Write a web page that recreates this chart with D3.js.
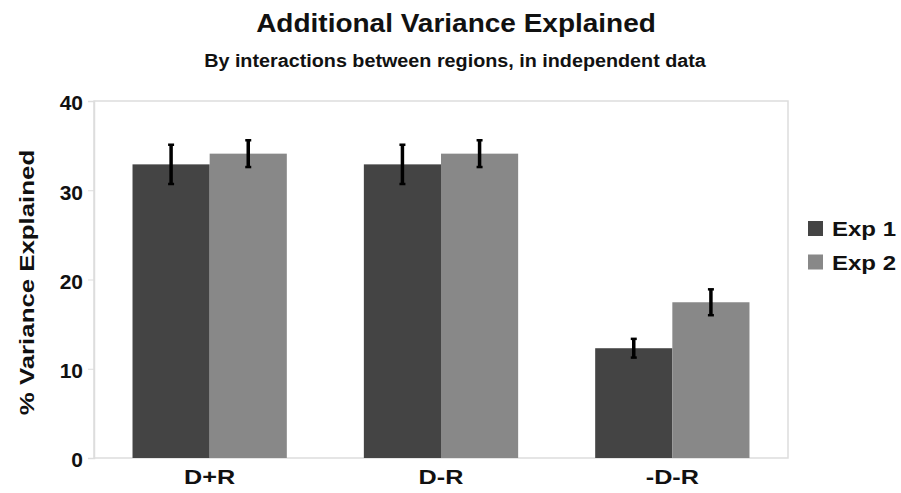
<!DOCTYPE html>
<html>
<head>
<meta charset="utf-8">
<script src="https://cdn.jsdelivr.net/npm/d3@7"></script>
<style>
  body { margin: 0; background: #fff; }
  text { font-family: "Liberation Sans", Arial, sans-serif; font-weight: bold; }
</style>
</head>
<body>
<div id="chart"></div>
<script>
// data
const categories = ["D+R", "D-R", "-D-R"];
const seriesNames = ["Exp 1", "Exp 2"];
const exp1 = [32.9, 32.9, 12.3];
const exp2 = [34.1, 34.1, 17.45];
const exp1Err = [2.2, 2.2, 1.05];
const exp2Err = [1.5, 1.5, 1.45];
const yTicks = [0, 10, 20, 30, 40];

const colors = ["#444444", "#888888"];
const W = 901, H = 493;
const margin = { top: 101, right: 113, bottom: 35, left: 94 };
const iw = W - margin.left - margin.right;
const ih = H - margin.top - margin.bottom;

const svg = d3.select("#chart").append("svg")
    .attr("width", W)
    .attr("height", H);

// the text in the picture is a bit wider than Liberation Sans, so stretch it
svg.append("text")
    .attr("transform", "translate(456,32) scale(1.12,1)")
    .attr("text-anchor", "middle")
    .attr("font-size", "25px")
    .attr("fill", "#111")
    .text("Additional Variance Explained");

svg.append("text")
    .attr("transform", "translate(455,67) scale(1.13,1)")
    .attr("text-anchor", "middle")
    .attr("font-size", "17.5px")
    .attr("fill", "#111")
    .text("By interactions between regions, in independent data");

const g = svg.append("g").attr("transform", `translate(${margin.left},${margin.top})`);

const x = d3.scaleBand().domain(categories).range([0, iw]).paddingInner(0.333).paddingOuter(0.1665);
const x1 = d3.scaleBand().domain(seriesNames).range([0, x.bandwidth()]);
const y = d3.scaleLinear().domain([0, 40]).range([ih, 0]);

// frame
g.append("rect")
    .attr("x", 0).attr("y", 0)
    .attr("width", iw).attr("height", ih)
    .attr("fill", "none")
    .attr("stroke", "#dddddd")
    .attr("stroke-width", 1.5);

// y axis
const yAxis = g.append("g")
    .call(d3.axisLeft(y).tickValues(yTicks).tickSize(6).tickPadding(5));
yAxis.select(".domain").attr("stroke", "#dddddd").attr("stroke-width", 1.5);
yAxis.selectAll(".tick line").attr("stroke", "#dddddd");
yAxis.selectAll(".tick text")
    .attr("font-size", "21px")
    .attr("dy", "0.42em")
    .attr("font-family", "Liberation Sans, Arial, sans-serif")
    .attr("font-weight", "bold")
    .attr("fill", "#111");

// x axis
const xAxis = g.append("g")
    .attr("transform", `translate(0,${ih})`)
    .call(d3.axisBottom(x).tickSize(0).tickPadding(11));
xAxis.select(".domain").remove();
xAxis.selectAll(".tick text")
    .attr("font-size", "21px")
    .attr("transform", "scale(1.2,1)")
    .attr("font-family", "Liberation Sans, Arial, sans-serif")
    .attr("font-weight", "bold")
    .attr("fill", "#111");

// axis title
svg.append("text")
    .attr("transform", `translate(34,${margin.top + ih / 2 + 3}) rotate(-90) scale(1.23,1)`)
    .attr("text-anchor", "middle")
    .attr("font-size", "21px")
    .attr("fill", "#111")
    .text("% Variance Explained");

// bars
const rows = categories.map((c, i) => ({
    cat: c,
    vals: [
        { s: seriesNames[0], v: exp1[i], e: exp1Err[i], c: colors[0] },
        { s: seriesNames[1], v: exp2[i], e: exp2Err[i], c: colors[1] }
    ]
}));

const grp = g.selectAll(".grp")
    .data(rows)
    .enter().append("g")
    .attr("class", "grp")
    .attr("transform", d => `translate(${x(d.cat)},0)`);

grp.selectAll("rect")
    .data(d => d.vals)
    .enter().append("rect")
    .attr("x", d => x1(d.s))
    .attr("y", d => y(d.v))
    .attr("width", x1.bandwidth())
    .attr("height", d => ih - y(d.v))
    .attr("fill", d => d.c);

// error bars
const eb = grp.selectAll(".err")
    .data(d => d.vals)
    .enter().append("g")
    .attr("class", "err")
    .attr("transform", d => `translate(${x1(d.s) + x1.bandwidth() / 2},0)`);

eb.append("line")
    .attr("x1", 0).attr("x2", 0)
    .attr("y1", d => y(d.v + d.e))
    .attr("y2", d => y(d.v - d.e))
    .attr("stroke", "#000")
    .attr("stroke-width", 3.5);
eb.selectAll(".cap")
    .data(d => [d.v + d.e, d.v - d.e])
    .enter().append("line")
    .attr("x1", -3).attr("x2", 3)
    .attr("y1", d => y(d)).attr("y2", d => y(d))
    .attr("stroke", "#000")
    .attr("stroke-width", 2.5);

// legend
const legend = svg.append("g").attr("transform", "translate(808,221)");
seriesNames.forEach((s, i) => {
    const row = legend.append("g").attr("transform", `translate(0,${i * 33.5})`);
    row.append("rect")
        .attr("width", 15).attr("height", 15)
        .attr("fill", colors[i]);
    row.append("text")
        .attr("transform", "translate(24,15) scale(1.2,1)")
        .attr("font-size", "20px")
        .attr("fill", "#111")
        .text(s);
});
</script>
</body>
</html>
